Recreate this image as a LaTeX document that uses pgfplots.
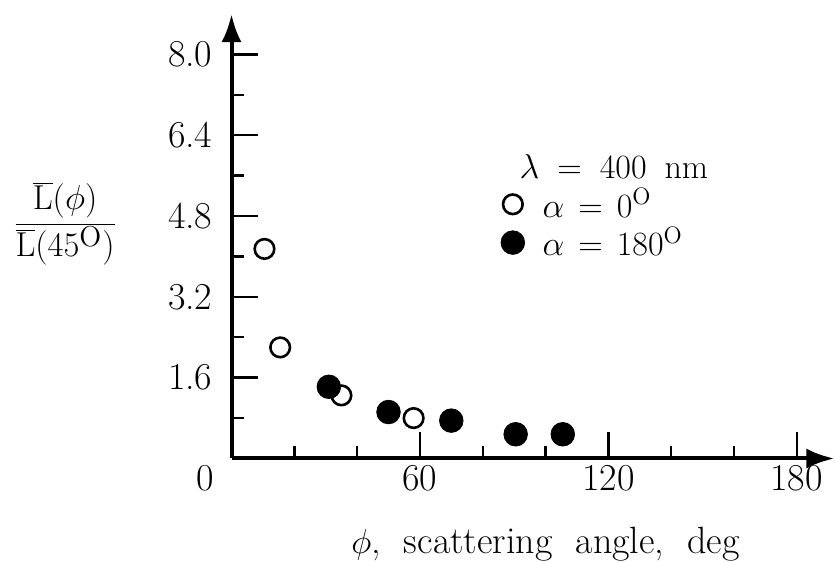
\documentclass[border=0pt]{standalone}
\usepackage{pgfplots}
\pgfplotsset{compat=1.18}
\usetikzlibrary{arrows.meta}
\newcommand{\fs}{\fontsize{19}{21}\selectfont}
\newcommand{\fl}{\fontsize{17}{19}\selectfont}
\begin{document}
\begin{tikzpicture}
\path[use as bounding box] (0,0) rectangle (417.5pt,281pt);
\begin{axis}[
  at={(115.75pt,51.75pt)}, anchor=south west,
  x=1.57pt, y=25.25pt,
  xmin=0, xmax=192, ymin=0, ymax=8.8,
  axis lines=left,
  axis line style={line width=2pt},
  x axis line style={-{Latex[length=14pt,width=10pt]}},
  y axis line style={-{Latex[length=14pt,width=10pt]}},
  tick style={line width=1.2pt, black},
  tick align=inside,
  major tick length=13pt, minor tick length=6pt,
  xtick={60,120,180}, xticklabels={60,120,180},
  minor xtick={20,40,80,100,140,160},
  ytick={1.6,3.2,4.8,6.4,8.0}, yticklabels={1.6,3.2,4.8,6.4,8.0},
  minor ytick={0.8,2.4,4.0,5.6,7.2},
  tick label style={font=\fs},
  yticklabel style={xshift=-6pt},
  clip=false,
  legend style={draw=none, fill=none, at={(axis cs:83.8,5.5)}, anchor=north west,
    font=\fl, row sep=0pt, legend cell align=left, nodes={inner sep=1.5pt}},
]
\addplot[only marks, mark=*, mark size=4.9pt,
  mark options={draw=black, fill=white, line width=1.3pt}]
  coordinates {(10.5,4.15) (15.5,2.2) (35,1.25) (58,0.8)};
\addlegendentry{\hspace{7.5pt}$\alpha$\hspace{7pt}=\hspace{7pt}0\textsuperscript{O}}
\addplot[only marks, mark=*, mark size=5.9pt,
  mark options={draw=black, fill=black}]
  coordinates {(31,1.42) (50,0.92) (70,0.75) (90.5,0.48) (105.5,0.48)};
\addlegendentry{\hspace{7.5pt}$\alpha$\hspace{7pt}=\hspace{7pt}180\textsuperscript{O}}
\node[anchor=west, font=\fl] at (axis cs:89.5,5.78)
  {$\lambda$\hspace{9pt}=\hspace{9pt}400\hspace{9pt}nm};
\node[anchor=north, font=\fs] at (axis cs:-8.3,0) {0};
\node[font=\fs] at (axis cs:-53,4.65)
  {$\displaystyle\frac{\overline{\mathrm{L}}(\phi)}{\overline{\mathrm{L}}(45^{\mathrm{O}})}$};
\node[font=\fs] at (axis cs:100,-1.7) {$\phi$,~~scattering~~angle,~~deg};
\end{axis}
\end{tikzpicture}
\end{document}
